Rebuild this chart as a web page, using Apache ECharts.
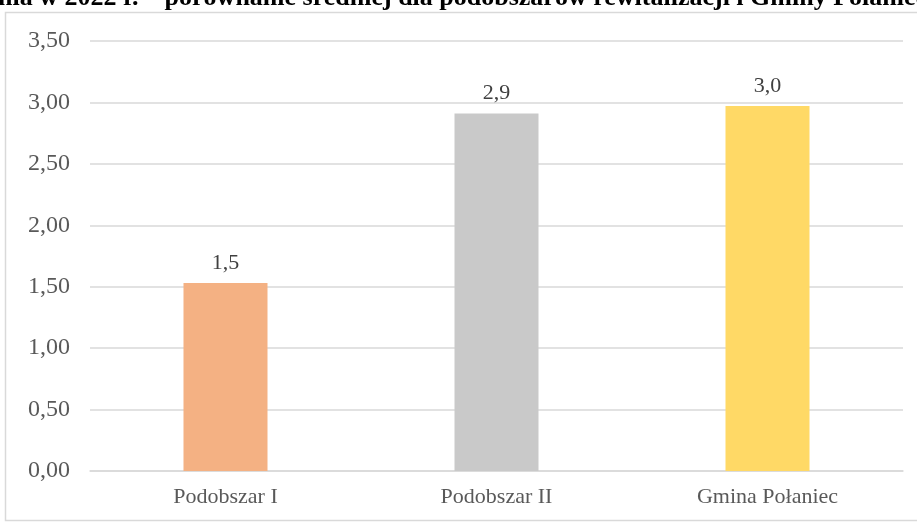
<!DOCTYPE html>
<html>
<head>
<meta charset="utf-8">
<script src="https://cdn.jsdelivr.net/npm/echarts@6/dist/echarts.min.js"></script>
<style>
html,body{margin:0;padding:0;background:#fff;}
#main{width:917px;height:523px;}
</style>
</head>
<body>
<div id="main"></div>
<script>
var categories = ['Podobszar I', 'Podobszar II', 'Gmina Połaniec'];
var values = [1.53, 2.91, 2.97];
var barColors = ['#f4b183', '#c9c9c9', '#ffd966'];
var titleText = 'nia w 2022 r. – porównanie średniej dla podobszarów rewitalizacji i Gminy Połaniec';

var chart = echarts.init(document.getElementById('main'));
var font = '"Liberation Serif", "Times New Roman", serif';

var option = {
    animation: false,
    graphic: [
        {
            type: 'rect',
            shape: {x: 5.5, y: 12.5, width: 930, height: 508},
            style: {fill: 'none', stroke: '#d9d9d9', lineWidth: 1.5}
        },
        {
            type: 'text',
            left: -2,
            top: -15,
            style: {
                text: titleText,
                fontFamily: font,
                fontWeight: 'bold',
                fontSize: 26,
                fill: '#000'
            }
        }
    ],
    grid: {
        left: 90,
        right: 14,
        top: 41,
        bottom: 52
    },
    xAxis: {
        type: 'category',
        data: categories,
        axisTick: {show: false},
        axisLine: {lineStyle: {color: '#d9d9d9', width: 1.5}},
        axisLabel: {
            color: '#595959',
            fontFamily: font,
            fontSize: 22,
            margin: 15
        }
    },
    yAxis: {
        type: 'value',
        min: 0,
        max: 3.5,
        interval: 0.5,
        axisLine: {show: false},
        axisTick: {show: false},
        axisLabel: {
            color: '#595959',
            fontFamily: font,
            fontSize: 24,
            margin: 20,
            formatter: function (v) { return v.toFixed(2).replace('.', ','); }
        },
        splitLine: {lineStyle: {color: '#d9d9d9', width: 1.5}}
    },
    series: [
        {
            type: 'bar',
            barWidth: '31%',
            data: values.map(function (v, i) {
                return {value: v, itemStyle: {color: barColors[i]}};
            }),
            label: {
                show: true,
                position: 'top',
                distance: 9,
                color: '#404040',
                fontFamily: font,
                fontSize: 22,
                formatter: function (p) { return p.value.toFixed(1).replace('.', ','); }
            }
        }
    ]
};

chart.setOption(option);
</script>
</body>
</html>
